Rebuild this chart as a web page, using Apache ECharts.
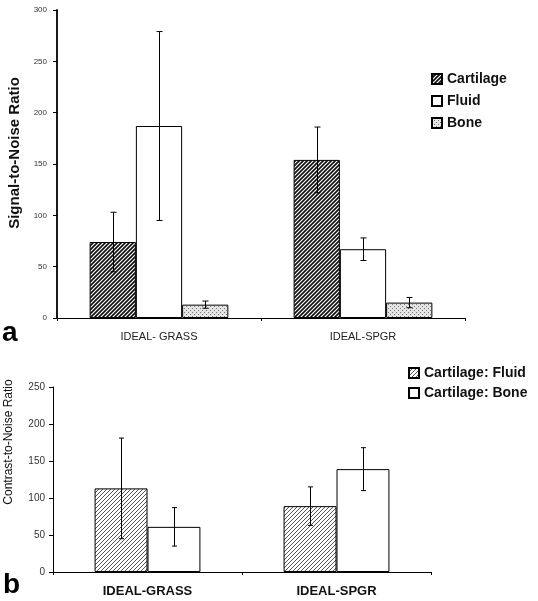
<!DOCTYPE html>
<html><head><meta charset="utf-8">
<script src="https://cdn.jsdelivr.net/npm/echarts@6/dist/echarts.min.js"></script>
<style>html,body{margin:0;padding:0;background:#fff}#c{width:538px;height:601px}</style>
</head><body><div id="c"></div>
<script>
// Panel a: Signal-to-Noise Ratio
var catsA = ['IDEAL- GRASS', 'IDEAL-SPGR'];
var snrCartilage = [74, 154];
var snrCartilageErr = [29, 32];
var snrFluid = [187, 67];
var snrFluidErr = [92, 11];
var snrBone = [13, 15];
var snrBoneErr = [3.5, 5];
// Panel b: Contrast-to-Noise Ratio
var catsB = ['IDEAL-GRASS', 'IDEAL-SPGR'];
var cnrCartFluid = [113, 89];
var cnrCartFluidErr = [68, 26];
var cnrCartBone = [61, 139];
var cnrCartBoneErr = [26, 29];

function makePattern(kind) {
  var cv = document.createElement('canvas');
  var s = 4;
  cv.width = s; cv.height = s;
  var g = cv.getContext('2d');
  g.fillStyle = '#fff'; g.fillRect(0, 0, s, s);
  if (kind === 'dark' || kind === 'light') {
    g.strokeStyle = kind === 'dark' ? '#111' : '#555';
    g.lineWidth = kind === 'dark' ? 1.7 : 1.0;
    g.beginPath();
    g.moveTo(-1, s + 1); g.lineTo(s + 1, -1);
    g.moveTo(-1, 1); g.lineTo(1, -1);
    g.moveTo(s - 1, s + 1); g.lineTo(s + 1, s - 1);
    g.stroke();
  } else {
    g.fillStyle = '#e4e4e4'; g.fillRect(0, 0, s, s);
    g.fillStyle = '#777';
    g.fillRect(0, 0, 1, 1);
    g.fillRect(2, 2, 1, 1);
  }
  return { image: cv, repeat: 'repeat' };
}
var patDark = makePattern('dark');
var patLight = makePattern('light');
var patDots = makePattern('dots');

function errData(vals, errs) {
  return vals.map(function (v, i) { return [i, v - errs[i], v + errs[i]]; });
}
function errRender(offsetFrac, cap) {
  return function (params, api) {
    var c = api.value(0);
    var lo = api.coord([c, api.value(1)]);
    var hi = api.coord([c, api.value(2)]);
    var cw = api.size([1, 0])[0];
    var x = Math.round(lo[0] + offsetFrac * cw) + 0.5;
    var st = { stroke: '#000', lineWidth: 1 };
    return {
      type: 'group',
      children: [
        { type: 'line', shape: { x1: x, y1: lo[1], x2: x, y2: hi[1] }, style: st },
        { type: 'line', shape: { x1: x - cap / 2, y1: lo[1], x2: x + cap / 2, y2: lo[1] }, style: st },
        { type: 'line', shape: { x1: x - cap / 2, y1: hi[1], x2: x + cap / 2, y2: hi[1] }, style: st }
      ]
    };
  };
}

var chart = echarts.init(document.getElementById('c'), null, { renderer: 'canvas' });
var gapA = 0.32, gapB = 0.44;
var bwA = (1 - gapA) / 3, bwB = (1 - gapB) / 2;
var font = 'Liberation Sans, Arial, sans-serif';
var barBorder = { borderColor: '#000', borderWidth: 1 };

var option = {
  animation: false,
  backgroundColor: '#fff',
  textStyle: { fontFamily: font },
  grid: [
    { left: 57, top: 10, width: 408, height: 308 },
    { left: 53, top: 387, width: 378, height: 185 }
  ],
  xAxis: [
    { type: 'category', gridIndex: 0, data: catsA,
      axisLine: { lineStyle: { color: '#000', width: 1 } },
      axisTick: { show: true, length: 3, lineStyle: { color: '#000' } },
      axisLabel: { color: '#222', fontSize: 11, margin: 13, fontFamily: font } },
    { type: 'category', gridIndex: 1, data: catsB,
      axisLine: { lineStyle: { color: '#000', width: 1 } },
      axisTick: { show: true, length: 3, lineStyle: { color: '#000' } },
      axisLabel: { color: '#111', fontSize: 13, fontWeight: 'bold', margin: 13, fontFamily: font } }
  ],
  yAxis: [
    { type: 'value', gridIndex: 0, min: 0, max: 300, interval: 50,
      axisLine: { show: true, lineStyle: { color: '#000', width: 1.8 } },
      axisTick: { show: true, length: 4, lineStyle: { color: '#000' } },
      splitLine: { show: false },
      axisLabel: { color: '#333', fontSize: 8, margin: 10, fontFamily: font } },
    { type: 'value', gridIndex: 1, min: 0, max: 250, interval: 50,
      axisLine: { show: true, lineStyle: { color: '#000', width: 1 } },
      axisTick: { show: true, length: 4, lineStyle: { color: '#000' } },
      splitLine: { show: false },
      axisLabel: { color: '#333', fontSize: 10, margin: 8, fontFamily: font } }
  ],
  legend: [
    { orient: 'vertical', left: 426, top: 67, itemWidth: 10, itemHeight: 10, itemGap: 8,
      icon: 'rect',
      data: ['Cartilage', 'Fluid', 'Bone'],
      textStyle: { fontSize: 14, fontWeight: 'bold', color: '#111', fontFamily: font, lineHeight: 14 } },
    { orient: 'vertical', left: 403, top: 361, itemWidth: 10, itemHeight: 10, itemGap: 6,
      icon: 'rect',
      data: ['Cartilage: Fluid', 'Cartilage: Bone'],
      textStyle: { fontSize: 14, fontWeight: 'bold', color: '#111', fontFamily: font, lineHeight: 14 } }
  ],
  graphic: [
    { type: 'text', x: 15, y: 153, rotation: Math.PI / 2,
      style: { text: 'Signal-to-Noise Ratio', font: 'bold 15px ' + font, fill: '#111', textAlign: 'center', textVerticalAlign: 'middle' } },
    { type: 'text', x: 9, y: 442, rotation: Math.PI / 2,
      style: { text: 'Contrast-to-Noise Ratio', font: '12px ' + font, fill: '#111', textAlign: 'center', textVerticalAlign: 'middle' } },
    { type: 'text', x: 2, y: 333,
      style: { text: 'a', font: 'bold 28px ' + font, fill: '#000', textVerticalAlign: 'middle' } },
    { type: 'text', x: 3, y: 585,
      style: { text: 'b', font: 'bold 28px ' + font, fill: '#000', textVerticalAlign: 'middle' } }
  ],
  series: [
    { name: 'Cartilage', type: 'bar', xAxisIndex: 0, yAxisIndex: 0, data: snrCartilage,
      barGap: '0%', barCategoryGap: (gapA * 100) + '%',
      itemStyle: Object.assign({ color: patDark }, barBorder) },
    { name: 'Fluid', type: 'bar', xAxisIndex: 0, yAxisIndex: 0, data: snrFluid,
      barGap: '0%', barCategoryGap: (gapA * 100) + '%',
      itemStyle: Object.assign({ color: '#fff' }, barBorder) },
    { name: 'Bone', type: 'bar', xAxisIndex: 0, yAxisIndex: 0, data: snrBone,
      barGap: '0%', barCategoryGap: (gapA * 100) + '%',
      itemStyle: Object.assign({ color: patDots }, barBorder) },
    { type: 'custom', xAxisIndex: 0, yAxisIndex: 0, data: errData(snrCartilage, snrCartilageErr),
      renderItem: errRender(-bwA, 6), encode: { x: 0, y: [1, 2] }, z: 5 },
    { type: 'custom', xAxisIndex: 0, yAxisIndex: 0, data: errData(snrFluid, snrFluidErr),
      renderItem: errRender(0, 6), encode: { x: 0, y: [1, 2] }, z: 5 },
    { type: 'custom', xAxisIndex: 0, yAxisIndex: 0, data: errData(snrBone, snrBoneErr),
      renderItem: errRender(bwA, 6), encode: { x: 0, y: [1, 2] }, z: 5 },

    { name: 'Cartilage: Fluid', type: 'bar', xAxisIndex: 1, yAxisIndex: 1, data: cnrCartFluid,
      barGap: '0%', barCategoryGap: (gapB * 100) + '%',
      itemStyle: Object.assign({ color: patLight }, barBorder) },
    { name: 'Cartilage: Bone', type: 'bar', xAxisIndex: 1, yAxisIndex: 1, data: cnrCartBone,
      barGap: '0%', barCategoryGap: (gapB * 100) + '%',
      itemStyle: Object.assign({ color: '#fff' }, barBorder) },
    { type: 'custom', xAxisIndex: 1, yAxisIndex: 1, data: errData(cnrCartFluid, cnrCartFluidErr),
      renderItem: errRender(-bwB / 2, 5), encode: { x: 0, y: [1, 2] }, z: 5 },
    { type: 'custom', xAxisIndex: 1, yAxisIndex: 1, data: errData(cnrCartBone, cnrCartBoneErr),
      renderItem: errRender(bwB / 2, 5), encode: { x: 0, y: [1, 2] }, z: 5 }
  ]
};
chart.setOption(option);
</script>
</body></html>
